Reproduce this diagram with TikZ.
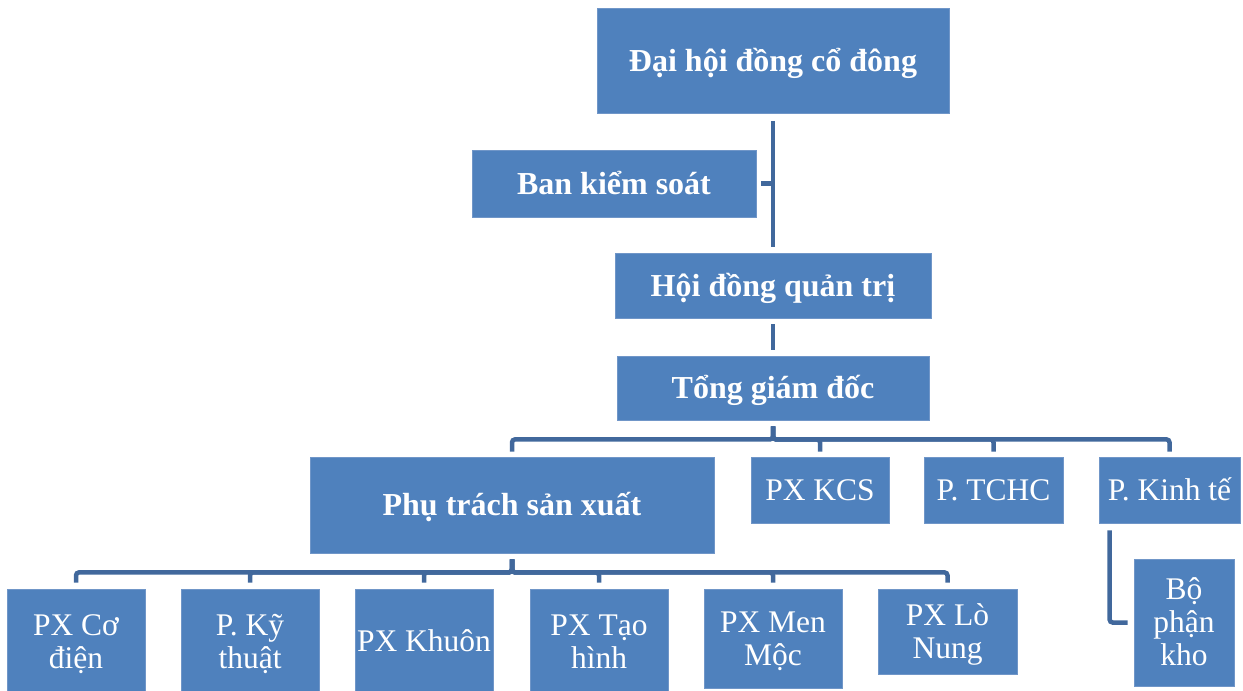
\documentclass[tikz,border=0pt]{standalone}
\usepackage{fontspec}
\setmainfont{Liberation Serif}
\usetikzlibrary{calc}
\definecolor{boxfill}{HTML}{4F81BD}
\definecolor{boxedge}{HTML}{7096C8}
\definecolor{linecol}{HTML}{41689C}
\tikzset{
  box/.style={draw=boxedge, line width=0.8pt, fill=boxfill, text=white, inner sep=0pt, align=center,
    font=\fontsize{31.5}{33}\selectfont, text height=25pt, text depth=5pt},
  bbox/.style={box, font=\fontsize{32}{33}\selectfont\bfseries, text height=26pt, text depth=5pt},
  twoline/.style={text height=55pt, text depth=2pt},
  threeline/.style={text height=88pt, text depth=3pt},
  conn/.style={draw=linecol, line width=4.5pt, rounded corners=3pt}
}
\begin{document}
\begin{tikzpicture}[x=1pt,y=-1pt]
\useasboundingbox (0,0) rectangle (1243,691);
% top level
\node[bbox, minimum width=352pt, minimum height=105pt] (dh) at (773,61) {Đại hội đồng cổ đông};
\node[bbox, minimum width=284pt, minimum height=67pt] (bks) at (614,183.5) {Ban kiểm soát};
\node[bbox, minimum width=316pt, minimum height=65pt] (hdqt) at (773,285.5) {Hội đồng quản trị};
\node[bbox, minimum width=312pt, minimum height=64pt] (tgd) at (773,388) {Tổng giám đốc};
% second level
\node[bbox, minimum width=404pt, minimum height=96pt] (pt) at (512,505) {Phụ trách sản xuất};
\node[box, minimum width=138pt, minimum height=66pt] (kcs) at (820,490) {PX KCS};
\node[box, minimum width=139pt, minimum height=66pt] (tchc) at (993.5,490) {P. TCHC};
\node[box, minimum width=141pt, minimum height=66pt] (kt) at (1169.5,490) {P. Kinh tế};
\node[box, threeline, minimum width=100pt, minimum height=127pt] (kho) at (1184,622.5) {Bộ\\phận\\kho};
% third level
\node[box, twoline, minimum width=138pt, minimum height=105pt] (cd) at (76,641.5) {PX Cơ\\điện};
\node[box, twoline, minimum width=138pt, minimum height=105pt] (kyt) at (250,641.5) {P. Kỹ\\thuật};
\node[box, minimum width=138pt, minimum height=105pt] (khuon) at (424,641.5) {PX Khuôn};
\node[box, twoline, minimum width=138pt, minimum height=105pt] (th) at (599,641.5) {PX Tạo\\hình};
\node[box, twoline, minimum width=138pt, minimum height=99pt] (mm) at (773,638.5) {PX Men\\Mộc};
\node[box, twoline, minimum width=139pt, minimum height=85pt] (ln) at (947.5,631.5) {PX Lò\\Nung};
% connectors top
\draw[conn] ([yshift=-7pt]dh.south) -- ([yshift=6pt]hdqt.north);
\draw[conn] ([xshift=5pt]bks.east) -- (bks.east -| dh.south);
\draw[conn] ([yshift=-6pt]hdqt.south) -- ([yshift=6pt]tgd.north);
% connectors to second level
\foreach \c in {pt,kcs,tchc,kt}{
  \draw[conn] ([yshift=-6pt]tgd.south) -- ++(0,13) -| ([yshift=5pt]\c.north);
}
% connectors to third level
\foreach \c in {cd,kyt,khuon,th,mm,ln}{
  \draw[conn] ([yshift=-6pt]pt.south) -- ++(0,13) -| ([yshift=6pt]\c.north);
}
\draw[conn] ([xshift=11pt,yshift=-7pt]kt.south west) |- ([xshift=-6pt]kho.west);
\end{tikzpicture}
\end{document}
